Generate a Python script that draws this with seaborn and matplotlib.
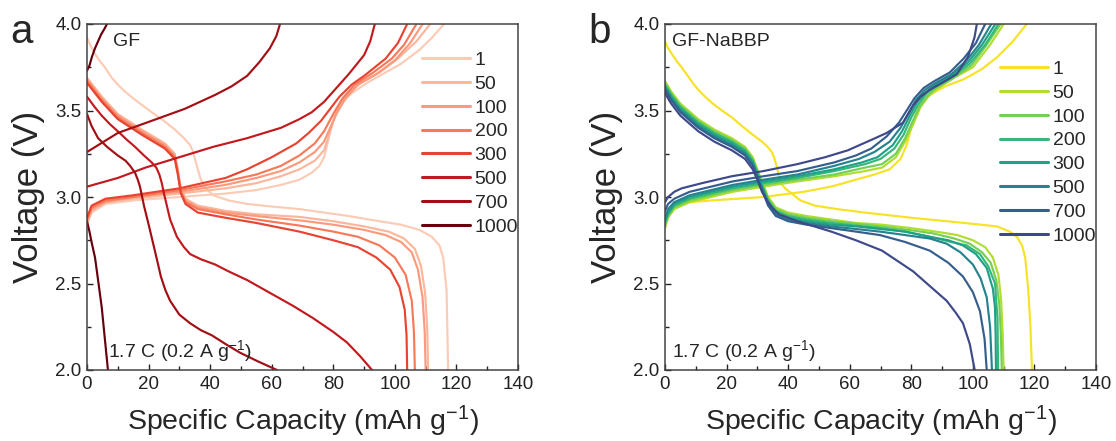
import numpy as np
import pandas as pd
import matplotlib
matplotlib.use("Agg")
import matplotlib.pyplot as plt
import seaborn as sns
from matplotlib.ticker import MultipleLocator

# ---------------- data ----------------
cycles = ["1", "50", "100", "200", "300", "500", "700", "1000"]
colors_gf = ["#fccbb5", "#fcb69b", "#fb9a7c", "#f67a5a", "#e8432f", "#c2191e", "#a10f14", "#67000d"]
colors_nabbp = ["#f7e225", "#b0dd2f", "#74d055", "#35b779", "#1fa187", "#26838e", "#355e8d", "#3e4989"]

x_ticks = [0, 20, 40, 60, 80, 100, 120, 140]
y_ticks = [2.0, 2.5, 3.0, 3.5, 4.0]

# ---- panel a (GF): charge curves ----
a_chg_1_q = [0, 1.5, 6, 15, 30, 45, 55, 63, 69, 73, 75.5, 77, 78, 79, 80.5, 83, 86, 91, 96, 102, 108, 112, 116]
a_chg_1_v = [2.84, 2.91, 2.96, 2.98, 3.00, 3.02, 3.04, 3.07, 3.10, 3.14, 3.18, 3.23, 3.30, 3.38, 3.47, 3.55, 3.60, 3.66, 3.71, 3.77, 3.85, 3.92, 4.0]
a_chg_50_q = [0, 1.5, 6, 15, 30, 45, 55, 63, 69, 74, 77, 78.5, 80, 82, 85, 89, 95, 101, 107, 111.5]
a_chg_50_v = [2.85, 2.92, 2.97, 2.99, 3.02, 3.05, 3.08, 3.12, 3.16, 3.21, 3.27, 3.35, 3.44, 3.53, 3.60, 3.66, 3.72, 3.80, 3.90, 4.0]
a_chg_100_q = [0, 1.5, 6, 15, 30, 45, 55, 63, 69, 74, 77, 79, 81, 84, 88, 94, 100, 105, 109]
a_chg_100_v = [2.86, 2.93, 2.97, 3.00, 3.03, 3.07, 3.11, 3.15, 3.20, 3.26, 3.32, 3.40, 3.48, 3.57, 3.65, 3.71, 3.79, 3.89, 4.0]
a_chg_200_q = [0, 1.5, 6, 15, 30, 45, 55, 63, 69, 74, 77, 80, 83, 87, 93, 99, 103, 107]
a_chg_200_v = [2.87, 2.94, 2.98, 3.00, 3.04, 3.09, 3.13, 3.18, 3.24, 3.31, 3.38, 3.48, 3.57, 3.65, 3.72, 3.80, 3.88, 4.0]
a_chg_300_q = [0, 1.5, 6, 15, 30, 45, 52, 60, 68, 72, 76, 79, 82, 86, 90, 97, 101, 104]
a_chg_300_v = [2.88, 2.95, 2.99, 3.01, 3.05, 3.11, 3.16, 3.23, 3.31, 3.37, 3.44, 3.51, 3.58, 3.65, 3.70, 3.80, 3.89, 4.0]
a_chg_500_q = [0, 10, 19, 30, 41, 52, 63, 69, 73, 77, 80, 85, 90, 92, 93.5]
a_chg_500_v = [3.06, 3.11, 3.17, 3.23, 3.29, 3.34, 3.40, 3.45, 3.49, 3.55, 3.61, 3.71, 3.82, 3.90, 4.0]
a_chg_700_q = [0, 10, 19.4, 31.8, 41.6, 47, 52, 56, 59.4, 61.5, 62.7]
a_chg_700_v = [3.26, 3.37, 3.43, 3.51, 3.59, 3.64, 3.70, 3.78, 3.86, 3.93, 4.0]
a_chg_1000_q = [0, 0.8, 1.6, 2.6, 3.6, 4.6, 5.6, 6.5]
a_chg_1000_v = [3.73, 3.76, 3.81, 3.86, 3.90, 3.94, 3.97, 4.0]

# ---- panel a (GF): discharge curves ----
a_dis_1_q = [0, 1, 2.5, 4, 5.8, 8, 10, 12.3, 15, 18, 21, 25, 28.5, 31.5, 33.5, 34.5, 35.2, 36, 36.8, 38, 41, 46, 52, 60, 69, 77, 85, 95, 102, 108, 112, 114.5, 115.7, 116.8, 117.3]
a_dis_1_v = [3.92, 3.88, 3.83, 3.79, 3.75, 3.69, 3.65, 3.61, 3.57, 3.53, 3.49, 3.44, 3.39, 3.34, 3.30, 3.26, 3.21, 3.16, 3.11, 3.06, 3.01, 2.98, 2.96, 2.945, 2.93, 2.91, 2.89, 2.86, 2.84, 2.81, 2.77, 2.72, 2.65, 2.46, 2.0]
a_dis_50_q = [0, 4.8, 10, 17.8, 25.3, 28.5, 29.5, 30.5, 32, 36, 45, 55, 69, 80, 90, 98, 103, 106.5, 108.5, 109.8, 110.5, 110.8]
a_dis_50_v = [3.69, 3.58, 3.48, 3.39, 3.31, 3.25, 3.16, 3.05, 2.99, 2.95, 2.92, 2.90, 2.885, 2.86, 2.83, 2.80, 2.76, 2.70, 2.60, 2.45, 2.25, 2.0]
a_dis_100_q = [0, 4.8, 10, 17.8, 25.3, 28.5, 29.5, 30.5, 32, 36, 45, 55, 69, 80, 90, 97, 102, 105.5, 107.5, 109, 109.7, 110]
a_dis_100_v = [3.68, 3.57, 3.47, 3.38, 3.30, 3.24, 3.15, 3.04, 2.98, 2.94, 2.91, 2.89, 2.865, 2.84, 2.81, 2.78, 2.74, 2.68, 2.58, 2.42, 2.22, 2.0]
a_dis_200_q = [0, 4.8, 10, 17.8, 25.3, 28.5, 29.5, 30.5, 32, 36, 45, 55, 69, 80, 88, 95, 100, 103.5, 105.5, 106.2, 106.5]
a_dis_200_v = [3.67, 3.56, 3.46, 3.37, 3.29, 3.23, 3.14, 3.03, 2.97, 2.93, 2.90, 2.87, 2.835, 2.80, 2.77, 2.72, 2.65, 2.55, 2.40, 2.22, 2.0]
a_dis_300_q = [0, 4.8, 10, 17.8, 25.3, 28.5, 29.5, 30.5, 32, 36, 45, 55, 69, 80, 88, 94, 98.5, 101.5, 103.2, 103.8, 104]
a_dis_300_v = [3.66, 3.55, 3.45, 3.36, 3.28, 3.22, 3.13, 3.02, 2.96, 2.91, 2.88, 2.85, 2.80, 2.75, 2.71, 2.65, 2.58, 2.48, 2.35, 2.20, 2.0]
a_dis_500_q = [0, 2.5, 4.8, 7.5, 10, 13, 15.6, 18.5, 21, 22.5, 23.5, 24.3, 25, 25.8, 27, 29.2, 31.5, 33.5, 37, 41.6, 46, 52, 57, 62, 67, 73.4, 80, 84.4, 88.7, 92.6]
a_dis_500_v = [3.58, 3.52, 3.47, 3.42, 3.38, 3.33, 3.29, 3.24, 3.20, 3.17, 3.13, 3.08, 3.02, 2.96, 2.87, 2.77, 2.71, 2.67, 2.64, 2.61, 2.57, 2.52, 2.47, 2.42, 2.37, 2.30, 2.22, 2.16, 2.08, 2.0]
a_dis_700_q = [0, 1.5, 3.6, 6.5, 10, 12.5, 14, 15.6, 16.5, 17.2, 17.8, 18.5, 19.2, 20.3, 21.5, 22.7, 24, 25.5, 27, 28.5, 30, 33.5, 37, 40.6, 45, 49.7, 55.5, 61.7]
a_dis_700_v = [3.48, 3.41, 3.34, 3.29, 3.24, 3.21, 3.18, 3.14, 3.10, 3.06, 3.01, 2.95, 2.90, 2.82, 2.73, 2.64, 2.54, 2.46, 2.40, 2.36, 2.32, 2.27, 2.23, 2.20, 2.15, 2.10, 2.05, 2.0]
a_dis_1000_q = [0, 0.8, 1.6, 2.6, 3.6, 4.8, 5.8, 6.8]
a_dis_1000_v = [2.86, 2.80, 2.73, 2.65, 2.52, 2.36, 2.18, 2.0]

# ---- panel b (GF-NaBBP): charge curves ----
b_chg_1_q = [0, 1, 3, 8, 15, 32, 45, 54, 62, 68, 73, 76.5, 78.5, 80, 81.5, 83, 86, 91, 97, 103, 108, 113, 117.5]
b_chg_1_v = [2.84, 2.90, 2.94, 2.97, 2.98, 3.00, 3.03, 3.06, 3.10, 3.13, 3.16, 3.22, 3.30, 3.40, 3.48, 3.54, 3.59, 3.64, 3.68, 3.74, 3.81, 3.90, 4.0]
b_chg_50_q = [0, 1, 3, 8, 15, 22, 32, 43, 55, 65, 70.5, 75, 78, 80.6, 83, 85.5, 88, 93, 100, 105.6, 110]
b_chg_50_v = [2.82, 2.88, 2.93, 2.97, 3.00, 3.03, 3.06, 3.09, 3.12, 3.15, 3.17, 3.23, 3.32, 3.42, 3.52, 3.58, 3.62, 3.68, 3.75, 3.88, 4.0]
b_chg_100_q = [0, 1, 3, 8, 15, 22, 32, 43, 55, 65, 70.5, 75, 78, 80.5, 83, 85.5, 88, 93, 99.5, 104.5, 109]
b_chg_100_v = [2.83, 2.89, 2.94, 2.98, 3.01, 3.04, 3.07, 3.10, 3.13, 3.17, 3.19, 3.25, 3.34, 3.44, 3.53, 3.59, 3.63, 3.68, 3.76, 3.88, 4.0]
b_chg_200_q = [0, 1, 3, 8, 15, 22, 32, 43, 55, 65, 70, 74.5, 77.5, 80, 82.5, 85, 88, 93, 99, 104, 108.3]
b_chg_200_v = [2.85, 2.90, 2.95, 2.99, 3.02, 3.05, 3.08, 3.11, 3.15, 3.19, 3.22, 3.28, 3.36, 3.46, 3.54, 3.60, 3.64, 3.69, 3.77, 3.88, 4.0]
b_chg_300_q = [0, 1, 3, 8, 15, 22, 32, 43, 55, 64, 69, 74, 77, 79.5, 82, 85, 88, 93, 98.5, 103, 107.3]
b_chg_300_v = [2.86, 2.91, 2.96, 3.00, 3.03, 3.06, 3.09, 3.12, 3.16, 3.20, 3.23, 3.30, 3.38, 3.47, 3.55, 3.61, 3.65, 3.70, 3.78, 3.88, 4.0]
b_chg_500_q = [0, 1, 3, 8, 15, 22, 32, 43, 55, 63, 68, 73, 76.5, 79, 81.5, 84.5, 88, 93, 98, 102, 106]
b_chg_500_v = [2.88, 2.93, 2.97, 3.01, 3.04, 3.07, 3.10, 3.13, 3.18, 3.22, 3.26, 3.32, 3.40, 3.48, 3.56, 3.62, 3.66, 3.71, 3.79, 3.88, 4.0]
b_chg_700_q = [0, 1, 3, 8, 15, 22, 32, 43, 55, 62, 67, 72, 76, 78.5, 81, 84, 87.5, 92.5, 97, 101, 104]
b_chg_700_v = [2.92, 2.96, 2.99, 3.03, 3.06, 3.09, 3.12, 3.15, 3.20, 3.24, 3.28, 3.35, 3.43, 3.50, 3.57, 3.63, 3.67, 3.72, 3.80, 3.89, 4.0]
b_chg_1000_q = [0, 1, 3, 5.4, 12, 21.7, 32, 43, 52, 59.4, 67, 72, 77.3, 80.6, 83, 86, 90, 94.8, 98.4, 100.5, 101.3]
b_chg_1000_v = [2.97, 3.00, 3.03, 3.05, 3.08, 3.12, 3.15, 3.19, 3.23, 3.27, 3.33, 3.37, 3.43, 3.53, 3.58, 3.62, 3.66, 3.71, 3.81, 3.92, 4.0]

# ---- panel b (GF-NaBBP): discharge curves ----
b_dis_1_q = [0, 1, 2.5, 4, 5.4, 7, 9, 10.8, 13, 15.5, 18.5, 21.7, 25, 28.5, 31.5, 33.3, 34.7, 35.6, 36.4, 37, 37.6, 39, 41.2, 44, 48.7, 56, 65, 70, 80, 91.5, 100, 107.8, 112, 114.3, 116, 117, 118, 118.7, 119.2]
b_dis_1_v = [3.90, 3.86, 3.82, 3.78, 3.75, 3.71, 3.66, 3.62, 3.58, 3.54, 3.50, 3.46, 3.41, 3.36, 3.32, 3.29, 3.26, 3.22, 3.17, 3.12, 3.08, 3.05, 3.02, 2.98, 2.95, 2.93, 2.91, 2.90, 2.88, 2.86, 2.845, 2.83, 2.80, 2.77, 2.72, 2.65, 2.46, 2.25, 2.0]
b_dis_50_q = [0, 2, 5, 10.8, 16, 21.7, 26, 28.5, 30, 31.5, 33.5, 36, 40, 46, 54, 62, 70.5, 80, 88, 95, 100, 104, 106.5, 108.3, 109.2, 109.7, 110]
b_dis_50_v = [3.67, 3.61, 3.54, 3.45, 3.39, 3.34, 3.29, 3.23, 3.16, 3.09, 3.00, 2.94, 2.91, 2.89, 2.87, 2.85, 2.84, 2.82, 2.80, 2.78, 2.75, 2.71, 2.65, 2.55, 2.40, 2.20, 2.0]
b_dis_100_q = [0, 2, 5, 10.8, 16, 21.7, 26, 28.5, 30, 31.5, 33.5, 36, 40, 46, 54, 62, 70, 79, 87, 94, 99, 103, 105.8, 107.6, 108.6, 109.1, 109.4]
b_dis_100_v = [3.66, 3.60, 3.53, 3.44, 3.38, 3.33, 3.28, 3.22, 3.15, 3.08, 2.99, 2.93, 2.90, 2.88, 2.86, 2.845, 2.83, 2.81, 2.79, 2.76, 2.73, 2.68, 2.62, 2.52, 2.38, 2.20, 2.0]
b_dis_200_q = [0, 2, 5, 10.8, 16, 21.7, 26, 28.5, 30, 31.5, 33.5, 36, 40, 46, 54, 62, 70, 78, 86, 93, 98, 102.3, 105, 107.2, 108, 108.2]
b_dis_200_v = [3.65, 3.59, 3.52, 3.43, 3.37, 3.32, 3.27, 3.21, 3.14, 3.07, 2.98, 2.92, 2.89, 2.87, 2.85, 2.835, 2.82, 2.80, 2.77, 2.74, 2.72, 2.67, 2.60, 2.50, 2.30, 2.0]
b_dis_300_q = [0, 2, 5, 10.8, 16, 21.7, 26, 28.5, 30, 31.5, 33.5, 36, 40, 46, 54, 62, 69.8, 78, 86, 92, 96.8, 101, 104.5, 106.5, 107.2, 107.4, 107.5]
b_dis_300_v = [3.64, 3.58, 3.51, 3.42, 3.36, 3.31, 3.26, 3.20, 3.13, 3.06, 2.97, 2.91, 2.88, 2.86, 2.84, 2.83, 2.815, 2.80, 2.77, 2.75, 2.72, 2.67, 2.59, 2.47, 2.36, 2.20, 2.0]
b_dis_500_q = [0, 2, 5, 10.8, 16, 21.7, 26, 28.5, 30, 31.5, 33.5, 36, 40, 46, 54, 62, 69.8, 78, 86, 91.5, 96, 100, 102.5, 104.5, 105.6, 106.2]
b_dis_500_v = [3.63, 3.57, 3.50, 3.41, 3.35, 3.30, 3.25, 3.19, 3.12, 3.05, 2.96, 2.90, 2.87, 2.85, 2.83, 2.815, 2.80, 2.78, 2.76, 2.73, 2.68, 2.61, 2.53, 2.42, 2.25, 2.0]
b_dis_700_q = [0, 2, 5, 10.8, 16, 21.7, 26, 28.5, 30, 31.5, 33.5, 36, 40, 46, 54, 62, 69.8, 78, 86, 92, 96.8, 100, 102.3, 103.8, 104.5]
b_dis_700_v = [3.62, 3.56, 3.49, 3.40, 3.34, 3.29, 3.24, 3.18, 3.11, 3.04, 2.95, 2.89, 2.86, 2.84, 2.82, 2.80, 2.78, 2.74, 2.69, 2.62, 2.54, 2.45, 2.34, 2.18, 2.0]
b_dis_1000_q = [0, 2, 5, 10.8, 16, 21.7, 26, 28.5, 30, 31.5, 33.5, 34.7, 37, 43, 54, 62, 70.5, 80.6, 87, 91.5, 94.5, 96.8, 99, 100.6]
b_dis_1000_v = [3.60, 3.54, 3.47, 3.38, 3.32, 3.27, 3.22, 3.16, 3.10, 3.03, 2.97, 2.94, 2.90, 2.86, 2.80, 2.75, 2.69, 2.57, 2.47, 2.40, 2.33, 2.27, 2.15, 2.0]

# ---------------- assemble long tables ----------------
g = globals()


def build(prefix):
    frames = []
    for c in cycles:
        for kind in ("chg", "dis"):
            q = g[f"{prefix}_{kind}_{c}_q"]
            v = g[f"{prefix}_{kind}_{c}_v"]
            frames.append(pd.DataFrame({"cap": q, "volt": v, "cycle": c,
                                        "seg": f"{c}_{kind}"}))
    return pd.concat(frames, ignore_index=True)


df_a = build("a")
df_b = build("b")

# ---------------- figure ----------------
sns.set_theme(style="ticks")
plt.rcParams["font.family"] = ["Liberation Sans", "DejaVu Sans"]
plt.rcParams["mathtext.default"] = "regular"

fig = plt.figure(figsize=(11.16, 4.41), dpi=100)
ax_a = fig.add_axes([87 / 1116, 1 - 370 / 441, 431 / 1116, 346 / 441])
ax_b = fig.add_axes([665 / 1116, 1 - 370 / 441, 431 / 1116, 346 / 441])

FS = 14


def draw(ax, df, pal, name, name_x, note_x, legend_top):
    sns.lineplot(data=df, x="cap", y="volt", hue="cycle", hue_order=cycles,
                 units="seg", estimator=None, sort=False, palette=pal,
                 linewidth=1.55, ax=ax, legend=True)
    ax.set_xlim(0, 140)
    ax.set_ylim(2.0, 4.0)
    ax.set_xticks(x_ticks)
    ax.set_yticks(y_ticks)
    ax.set_yticklabels([f"{t:.1f}" for t in y_ticks])
    ax.xaxis.set_minor_locator(MultipleLocator(10))
    ax.yaxis.set_minor_locator(MultipleLocator(0.25))
    ax.tick_params(which="both", direction="in", top=False, right=False,
                   labelsize=13.5, colors="#222222", width=1.0)
    ax.tick_params(which="major", length=4.5, pad=4)
    ax.tick_params(which="minor", length=3)
    for s in ax.spines.values():
        s.set_visible(True)
        s.set_color("#444444")
        s.set_linewidth(1.1)
    ax.set_xlabel("Specific Capacity (mAh g$^{-1}$)", fontsize=20.5, labelpad=8)
    ax.set_ylabel("Voltage (V)", fontsize=25)
    ax.yaxis.set_label_coords(-0.097, 0.5)
    handles, labels = ax.get_legend_handles_labels()
    for h in handles:
        h.set_linewidth(2.2)
    ax.legend(handles=handles, labels=labels, loc="upper left",
              bbox_to_anchor=(0.777, legend_top), frameon=False, fontsize=FS,
              handlelength=2.45, handletextpad=0.26, labelspacing=0.32, borderpad=0,
              borderaxespad=0)
    ax.text(name_x, 0.936, name, transform=ax.transAxes, fontsize=FS, va="baseline", ha="left")
    ax.text(note_x, 0.038, "1.7 C (0.2 A g$^{-1}$)",
            transform=ax.transAxes, fontsize=FS, va="baseline", ha="left")


draw(ax_a, df_a, colors_gf, "GF", 0.060, 0.049, 0.921)
draw(ax_b, df_b, colors_nabbp, "GF-NaBBP", 0.016, 0.016, 0.895)

fig.text(10 / 1116, 1 - 43 / 441, "a", fontsize=29, va="baseline", ha="left")
fig.text(588 / 1116, 1 - 43 / 441, "b", fontsize=29, va="baseline", ha="left")

fig.savefig("out.png", dpi=100)
